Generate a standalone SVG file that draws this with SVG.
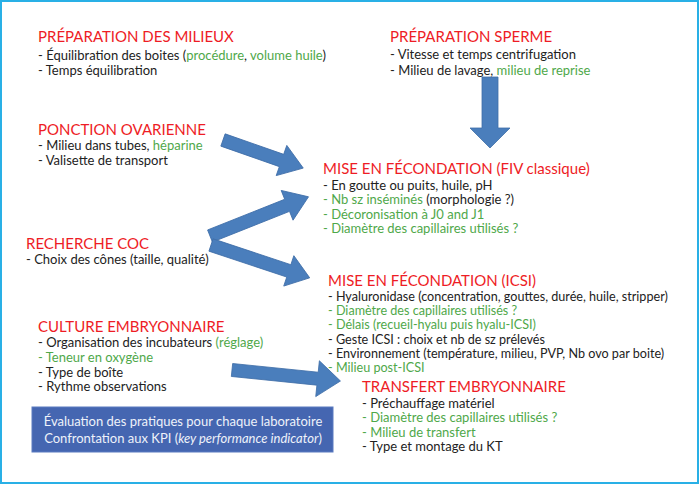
<svg xmlns="http://www.w3.org/2000/svg" width="700" height="485" viewBox="0 0 700 485">
<style>
text{font-family:Lato,"Open Sans","Liberation Sans",sans-serif;font-size:13px;fill:#222}
.t{font-size:15px;fill:#ee1c25}
.s{font-size:12.6px}
.g{fill:#4fa84a}
.w{fill:#eef2fa;font-size:13px}
.arr{fill:#4a7ebc;stroke:#3f6ea8;stroke-width:0.8}
</style>
<rect x="1" y="1" width="697" height="482" fill="#fff" stroke="#29b0e6" stroke-width="2"/>
<g id="connectors">
<polygon class="arr" points="0,-6.5 62,-6.5 62,-16 85,0 62,16 62,6.5 0,6.5" transform="translate(223,140) rotate(19.3)"/>
<polygon class="arr" points="0,-6.5 83,-6.5 83,-16 106,0 83,16 83,6.5 0,6.5" transform="translate(210,236) rotate(-21.7)"/>
<polygon class="arr" points="0,-6.5 82,-6.5 82,-16 104,0 82,16 82,6.5 0,6.5" transform="translate(211,245) rotate(18.4)"/>
<polygon class="arr" points="0,-6.5 86,-6.5 86,-18 109,0 86,18 86,6.5 0,6.5" transform="translate(232,370) rotate(5.8)"/>
<polygon class="arr" points="482,77 498,77 498,128 510,128 490,148 470,128 482,128"/>
</g>
<g id="prep-milieux">
<text class="t" x="38" y="42">PRÉPARATION DES MILIEUX</text>
<text x="38" y="59.5">- Équilibration des boites (<tspan class="g">procédure</tspan>, <tspan class="g">volume huile</tspan>)</text>
<text x="38" y="75">- Temps équilibration</text>
</g>
<g id="prep-sperme">
<text class="t" x="390" y="42">PRÉPARATION SPERME</text>
<text x="390" y="59">- Vitesse et temps centrifugation</text>
<text x="390" y="74.5">- Milieu de lavage, <tspan class="g">milieu de reprise</tspan></text>
</g>
<g id="ponction">
<text class="t" x="38" y="135">PONCTION OVARIENNE</text>
<text x="38" y="149.5">- Milieu dans tubes, <tspan class="g">héparine</tspan></text>
<text x="38" y="164.5">- Valisette de transport</text>
</g>
<g id="recherche">
<text class="t" x="26" y="249">RECHERCHE COC</text>
<text x="26" y="264">- Choix des cônes (taille, qualité)</text>
</g>
<g id="fiv">
<text class="t" x="323" y="174">MISE EN FÉCONDATION (FIV classique)</text>
<text x="323" y="189.5">- En goutte ou puits, huile, pH</text>
<text x="323" y="204"><tspan class="g">- Nb sz inséminés</tspan> (morphologie ?)</text>
<text x="323" y="218.5" class="g">- Décoronisation à J0 and J1</text>
<text x="323" y="233" class="g">- Diamètre des capillaires utilisés ?</text>
</g>
<g id="icsi">
<text class="t" x="328" y="286">MISE EN FÉCONDATION (ICSI)</text>
<text class="s" x="328" y="301">- Hyaluronidase (concentration, gouttes, durée, huile, stripper)</text>
<text class="s g" x="328" y="315.2">- Diamètre des capillaires utilisés ?</text>
<text class="s g" x="328" y="329.4">- Délais (recueil-hyalu puis hyalu-ICSI)</text>
<text class="s" x="328" y="343.6">- Geste ICSI : choix et nb de sz prélevés</text>
<text class="s" x="328" y="357.8">- Environnement (température, milieu, PVP, Nb ovo par boite)</text>
<text class="s g" x="328" y="372">- Milieu post-ICSI</text>
</g>
<g id="culture">
<text class="t" x="38" y="332">CULTURE EMBRYONNAIRE</text>
<text x="38" y="347">- Organisation des incubateurs <tspan class="g">(réglage)</tspan></text>
<text x="38" y="362" class="g">- Teneur en oxygène</text>
<text x="38" y="376.5">- Type de boîte</text>
<text x="38" y="391">- Rythme observations</text>
</g>
<g id="transfert">
<text class="t" x="362" y="392">TRANSFERT EMBRYONNAIRE</text>
<text x="362" y="407.5">- Préchauffage matériel</text>
<text x="362" y="422" class="g">- Diamètre des capillaires utilisés ?</text>
<text x="362" y="436.5" class="g">- Milieu de transfert</text>
<text x="362" y="451">- Type et montage du KT</text>
</g>
<g id="evaluation">
<rect x="32" y="407" width="301" height="45" fill="#4566b1" stroke="#5a7bc0" stroke-width="1"/>
<text class="w" x="183" y="425.5" text-anchor="middle">Évaluation des pratiques pour chaque laboratoire</text>
<text class="w" x="183" y="442.5" text-anchor="middle">Confrontation aux KPI (<tspan font-style="italic">key performance indicator</tspan>)</text>
</g>
</svg>
